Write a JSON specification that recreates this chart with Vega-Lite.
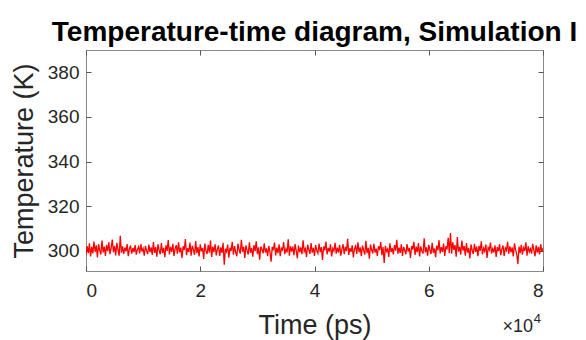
{
  "$schema": "https://vega.github.io/schema/vega-lite/v6.json",
  "width": 457,
  "height": 221,
  "autosize": {"type": "none"},
  "padding": {"left": 86, "top": 50, "right": 43, "bottom": 69},
  "background": "white",
  "title": {"text": "Temperature-time diagram, Simulation I", "font": "Liberation Sans", "fontSize": 28, "fontWeight": "bold", "color": "#000000", "anchor": "middle", "baseline": "alphabetic", "offset": -19},
  "config": {
    "view": {"stroke": "#8a8a8a", "strokeWidth": 1},
    "axis": {"labelFont": "Liberation Sans", "titleFont": "Liberation Sans", "labelColor": "#262626", "titleColor": "#262626", "titleFontWeight": "normal", "grid": false, "domain": false, "tickColor": "#555555", "tickSize": -5, "tickWidth": 1}
  },
  "data": {"values": [
{"t":0,"T":298.2},{"t":200,"T":302.1},{"t":400,"T":299.0},{"t":600,"T":303.4},{"t":800,"T":297.5},{"t":1000,"T":301.8},{"t":1200,"T":298.9},{"t":1400,"T":304.2},{"t":1600,"T":299.6},{"t":1800,"T":302.5},{"t":2000,"T":297.1},{"t":2200,"T":303.0},{"t":2400,"T":300.2},{"t":2600,"T":298.4},{"t":2800,"T":304.6},{"t":3000,"T":299.3},{"t":3200,"T":301.9},{"t":3400,"T":297.8},{"t":3600,"T":302.7},{"t":3800,"T":299.9},
{"t":4000,"T":303.8},{"t":4200,"T":298.6},{"t":4400,"T":301.2},{"t":4600,"T":305.1},{"t":4800,"T":299.4},{"t":5000,"T":302.3},{"t":5200,"T":298.0},{"t":5400,"T":303.6},{"t":5600,"T":300.5},{"t":5800,"T":297.9},{"t":6000,"T":306.8},{"t":6200,"T":299.2},{"t":6400,"T":302.0},{"t":6600,"T":298.7},{"t":6800,"T":301.5},{"t":7000,"T":299.8},{"t":7200,"T":303.1},{"t":7400,"T":297.6},{"t":7600,"T":300.9},{"t":7800,"T":302.4},
{"t":8000,"T":298.8},{"t":8200,"T":301.3},{"t":8400,"T":299.5},{"t":8600,"T":302.6},{"t":8800,"T":298.3},{"t":9000,"T":300.7},{"t":9200,"T":301.9},{"t":9400,"T":298.9},{"t":9600,"T":303.0},{"t":9800,"T":299.7},{"t":10000,"T":301.1},{"t":10200,"T":297.9},{"t":10400,"T":302.2},{"t":10600,"T":300.1},{"t":10800,"T":298.6},{"t":11000,"T":302.8},{"t":11200,"T":299.4},{"t":11400,"T":301.6},{"t":11600,"T":298.2},{"t":11800,"T":304.0},
{"t":12000,"T":299.1},{"t":12200,"T":301.7},{"t":12400,"T":297.4},{"t":12600,"T":302.9},{"t":12800,"T":300.3},{"t":13000,"T":298.5},{"t":13200,"T":303.5},{"t":13400,"T":299.0},{"t":13600,"T":301.4},{"t":13800,"T":297.2},{"t":14000,"T":302.5},{"t":14200,"T":300.0},{"t":14400,"T":304.9},{"t":14600,"T":298.4},{"t":14800,"T":301.8},{"t":15000,"T":299.6},{"t":15200,"T":303.2},{"t":15400,"T":297.7},{"t":15600,"T":301.0},{"t":15800,"T":302.6},
{"t":16000,"T":298.7},{"t":16200,"T":303.9},{"t":16400,"T":299.3},{"t":16600,"T":301.5},{"t":16800,"T":296.8},{"t":17000,"T":302.1},{"t":17200,"T":300.4},{"t":17400,"T":305.3},{"t":17600,"T":298.1},{"t":17800,"T":301.2},{"t":18000,"T":299.5},{"t":18200,"T":303.7},{"t":18400,"T":297.9},{"t":18600,"T":302.3},{"t":18800,"T":300.6},{"t":19000,"T":298.2},{"t":19200,"T":304.4},{"t":19400,"T":299.0},{"t":19600,"T":301.7},{"t":19800,"T":297.5},
{"t":20000,"T":302.9},{"t":20200,"T":299.8},{"t":20400,"T":301.3},{"t":20600,"T":296.4},{"t":20800,"T":303.3},{"t":21000,"T":300.1},{"t":21200,"T":298.6},{"t":21400,"T":302.7},{"t":21600,"T":299.2},{"t":21800,"T":304.6},{"t":22000,"T":297.3},{"t":22200,"T":301.9},{"t":22400,"T":299.5},{"t":22600,"T":303.0},{"t":22800,"T":298.0},{"t":23000,"T":300.8},{"t":23200,"T":302.4},{"t":23400,"T":297.8},{"t":23600,"T":301.6},{"t":23800,"T":299.1},
{"t":24000,"T":303.6},{"t":24200,"T":293.8},{"t":24400,"T":301.0},{"t":24600,"T":299.7},{"t":24800,"T":302.8},{"t":25000,"T":297.0},{"t":25200,"T":301.4},{"t":25400,"T":300.0},{"t":25600,"T":304.1},{"t":25800,"T":298.3},{"t":26000,"T":302.2},{"t":26200,"T":299.4},{"t":26400,"T":297.6},{"t":26600,"T":303.3},{"t":26800,"T":300.5},{"t":27000,"T":298.8},{"t":27200,"T":305.0},{"t":27400,"T":299.6},{"t":27600,"T":301.8},{"t":27800,"T":296.9},
{"t":28000,"T":302.5},{"t":28200,"T":300.2},{"t":28400,"T":298.4},{"t":28600,"T":303.8},{"t":28800,"T":299.1},{"t":29000,"T":301.3},{"t":29200,"T":297.4},{"t":29400,"T":302.6},{"t":29600,"T":299.9},{"t":29800,"T":304.3},{"t":30000,"T":298.5},{"t":30200,"T":301.6},{"t":30400,"T":296.1},{"t":30600,"T":302.0},{"t":30800,"T":300.7},{"t":31000,"T":298.9},{"t":31200,"T":303.4},{"t":31400,"T":299.3},{"t":31600,"T":301.1},{"t":31800,"T":297.7},
{"t":32000,"T":302.3},{"t":32200,"T":299.6},{"t":32400,"T":295.2},{"t":32600,"T":301.8},{"t":32800,"T":300.3},{"t":33000,"T":303.7},{"t":33200,"T":298.0},{"t":33400,"T":301.5},{"t":33600,"T":299.0},{"t":33800,"T":302.9},{"t":34000,"T":297.6},{"t":34200,"T":301.2},{"t":34400,"T":300.4},{"t":34600,"T":303.9},{"t":34800,"T":298.6},{"t":35000,"T":300.9},{"t":35200,"T":299.3},{"t":35400,"T":305.2},{"t":35600,"T":297.9},{"t":35800,"T":302.1},
{"t":36000,"T":299.7},{"t":36200,"T":301.9},{"t":36400,"T":298.1},{"t":36600,"T":303.1},{"t":36800,"T":300.0},{"t":37000,"T":296.7},{"t":37200,"T":302.4},{"t":37400,"T":299.4},{"t":37600,"T":301.6},{"t":37800,"T":298.5},{"t":38000,"T":304.7},{"t":38200,"T":299.8},{"t":38400,"T":301.0},{"t":38600,"T":297.3},{"t":38800,"T":302.8},{"t":39000,"T":300.6},{"t":39200,"T":298.7},{"t":39400,"T":303.5},{"t":39600,"T":299.2},{"t":39800,"T":301.4},
{"t":40000,"T":297.8},{"t":40200,"T":302.6},{"t":40400,"T":300.1},{"t":40600,"T":298.9},{"t":40800,"T":303.3},{"t":41000,"T":299.5},{"t":41200,"T":301.7},{"t":41400,"T":296.0},{"t":41600,"T":302.0},{"t":41800,"T":300.3},{"t":42000,"T":304.2},{"t":42200,"T":298.4},{"t":42400,"T":301.3},{"t":42600,"T":299.7},{"t":42800,"T":302.9},{"t":43000,"T":297.5},{"t":43200,"T":301.1},{"t":43400,"T":300.0},{"t":43600,"T":303.6},{"t":43800,"T":298.8},
{"t":44000,"T":301.5},{"t":44200,"T":299.2},{"t":44400,"T":302.7},{"t":44600,"T":297.9},{"t":44800,"T":300.8},{"t":45000,"T":303.0},{"t":45200,"T":298.6},{"t":45400,"T":301.8},{"t":45600,"T":299.9},{"t":45800,"T":305.4},{"t":46000,"T":298.2},{"t":46200,"T":301.2},{"t":46400,"T":299.6},{"t":46600,"T":302.5},{"t":46800,"T":297.1},{"t":47000,"T":300.9},{"t":47200,"T":302.2},{"t":47400,"T":298.7},{"t":47600,"T":303.8},{"t":47800,"T":299.4},
{"t":48000,"T":301.6},{"t":48200,"T":297.6},{"t":48400,"T":302.4},{"t":48600,"T":300.2},{"t":48800,"T":298.3},{"t":49000,"T":304.5},{"t":49200,"T":299.0},{"t":49400,"T":301.4},{"t":49600,"T":296.5},{"t":49800,"T":302.8},{"t":50000,"T":300.5},{"t":50200,"T":298.9},{"t":50400,"T":303.2},{"t":50600,"T":299.3},{"t":50800,"T":301.0},{"t":51000,"T":297.8},{"t":51200,"T":302.1},{"t":51400,"T":300.4},{"t":51600,"T":304.0},{"t":51800,"T":298.1},
{"t":52000,"T":301.7},{"t":52200,"T":294.6},{"t":52400,"T":302.3},{"t":52600,"T":299.8},{"t":52800,"T":300.9},{"t":53000,"T":297.3},{"t":53200,"T":303.4},{"t":53400,"T":299.5},{"t":53600,"T":301.2},{"t":53800,"T":298.4},{"t":54000,"T":302.6},{"t":54200,"T":300.1},{"t":54400,"T":305.0},{"t":54600,"T":298.7},{"t":54800,"T":301.5},{"t":55000,"T":299.1},{"t":55200,"T":302.9},{"t":55400,"T":297.7},{"t":55600,"T":301.8},{"t":55800,"T":300.3},
{"t":56000,"T":298.5},{"t":56200,"T":303.1},{"t":56400,"T":299.7},{"t":56600,"T":301.3},{"t":56800,"T":296.9},{"t":57000,"T":302.2},{"t":57200,"T":300.6},{"t":57400,"T":304.1},{"t":57600,"T":298.2},{"t":57800,"T":301.9},{"t":58000,"T":299.4},{"t":58200,"T":303.5},{"t":58400,"T":297.5},{"t":58600,"T":302.0},{"t":58800,"T":300.0},{"t":59000,"T":298.8},{"t":59200,"T":305.6},{"t":59400,"T":299.3},{"t":59600,"T":301.6},{"t":59800,"T":297.9},
{"t":60000,"T":302.7},{"t":60200,"T":300.4},{"t":60400,"T":298.6},{"t":60600,"T":303.6},{"t":60800,"T":299.1},{"t":61000,"T":301.1},{"t":61200,"T":297.2},{"t":61400,"T":302.4},{"t":61600,"T":300.2},{"t":61800,"T":304.8},{"t":62000,"T":298.9},{"t":62200,"T":301.7},{"t":62400,"T":299.6},{"t":62600,"T":303.3},{"t":62800,"T":297.8},{"t":63000,"T":302.1},{"t":63200,"T":300.7},{"t":63400,"T":305.9},{"t":63600,"T":299.0},{"t":63800,"T":308.0},
{"t":64000,"T":298.8},{"t":64200,"T":303.9},{"t":64400,"T":300.5},{"t":64600,"T":302.6},{"t":64800,"T":297.4},{"t":65000,"T":306.2},{"t":65200,"T":299.7},{"t":65400,"T":301.8},{"t":65600,"T":298.3},{"t":65800,"T":304.6},{"t":66000,"T":300.1},{"t":66200,"T":302.2},{"t":66400,"T":297.9},{"t":66600,"T":303.5},{"t":66800,"T":299.2},{"t":67000,"T":301.4},{"t":67200,"T":296.6},{"t":67400,"T":302.9},{"t":67600,"T":300.3},{"t":67800,"T":298.6},
{"t":68000,"T":303.2},{"t":68200,"T":299.5},{"t":68400,"T":301.9},{"t":68600,"T":297.6},{"t":68800,"T":302.3},{"t":69000,"T":300.0},{"t":69200,"T":304.3},{"t":69400,"T":298.4},{"t":69600,"T":301.2},{"t":69800,"T":299.8},{"t":70000,"T":302.8},{"t":70200,"T":296.8},{"t":70400,"T":301.5},{"t":70600,"T":300.4},{"t":70800,"T":303.7},{"t":71000,"T":298.9},{"t":71200,"T":301.0},{"t":71400,"T":299.3},{"t":71600,"T":302.5},{"t":71800,"T":297.3},
{"t":72000,"T":301.7},{"t":72200,"T":299.9},{"t":72400,"T":303.0},{"t":72600,"T":298.1},{"t":72800,"T":300.8},{"t":73000,"T":302.4},{"t":73200,"T":297.7},{"t":73400,"T":301.3},{"t":73600,"T":300.2},{"t":73800,"T":304.1},{"t":74000,"T":298.7},{"t":74200,"T":302.0},{"t":74400,"T":299.4},{"t":74600,"T":301.6},{"t":74800,"T":297.5},{"t":75000,"T":303.4},{"t":75200,"T":300.6},{"t":75400,"T":298.5},{"t":75600,"T":294.2},{"t":75800,"T":301.9},
{"t":76000,"T":299.0},{"t":76200,"T":302.7},{"t":76400,"T":298.3},{"t":76600,"T":301.4},{"t":76800,"T":300.0},{"t":77000,"T":303.8},{"t":77200,"T":297.9},{"t":77400,"T":302.1},{"t":77600,"T":299.6},{"t":77800,"T":301.0},{"t":78000,"T":298.8},{"t":78200,"T":303.2},{"t":78400,"T":300.3},{"t":78600,"T":297.6},{"t":78800,"T":302.5},{"t":79000,"T":299.2},{"t":79200,"T":301.8},{"t":79400,"T":298.4},{"t":79600,"T":303.0},{"t":79800,"T":299.7},
{"t":80000,"T":301.2}
  ]},
  "layer": [
    {
      "mark": {"type": "line", "color": "#ff0000", "strokeWidth": 1.3, "clip": true},
      "encoding": {
        "x": {"field": "t", "type": "quantitative", "scale": {"domain": [0, 80000], "nice": false, "zero": false},
              "axis": {"orient": "bottom", "values": [0, 20000, 40000, 60000, 80000], "labelExpr": "datum.value / 10000", "labelFontSize": 19, "labelPadding": 15, "title": "Time (ps)", "titleFontSize": 27, "titlePadding": 12}},
        "y": {"field": "T", "type": "quantitative", "scale": {"domain": [291, 390], "nice": false, "zero": false},
              "axis": {"orient": "left", "values": [300, 320, 340, 360, 380], "labelFontSize": 19, "labelPadding": 12, "title": "Temperature (K)", "titleFontSize": 27, "titlePadding": 9}}
      }
    },
    {
      "mark": {"type": "line", "strokeOpacity": 0},
      "encoding": {
        "x": {"field": "t", "type": "quantitative", "scale": {"domain": [0, 80000], "nice": false, "zero": false},
              "axis": {"orient": "top", "values": [0, 20000, 40000, 60000, 80000], "labels": false, "title": null}},
        "y": {"field": "T", "type": "quantitative", "scale": {"domain": [291, 390], "nice": false, "zero": false},
              "axis": {"orient": "right", "values": [300, 320, 340, 360, 380], "labels": false, "title": null}}
      }
    },
    {
      "data": {"values": [{"t": 80000, "T": 291, "s": "×10"}]},
      "mark": {"type": "text", "font": "Liberation Sans", "fontSize": 18, "color": "#262626", "align": "right", "baseline": "alphabetic", "dx": -10, "dy": 61},
      "encoding": {"x": {"field": "t", "type": "quantitative", "axis": null}, "y": {"field": "T", "type": "quantitative", "axis": null}, "text": {"field": "s"}}
    },
    {
      "data": {"values": [{"t": 80000, "T": 291, "s": "4"}]},
      "mark": {"type": "text", "font": "Liberation Sans", "fontSize": 13, "color": "#262626", "align": "right", "baseline": "alphabetic", "dx": -2, "dy": 52},
      "encoding": {"x": {"field": "t", "type": "quantitative", "axis": null}, "y": {"field": "T", "type": "quantitative", "axis": null}, "text": {"field": "s"}}
    }
  ],
  "resolve": {"axis": {"x": "independent", "y": "independent"}}
}
